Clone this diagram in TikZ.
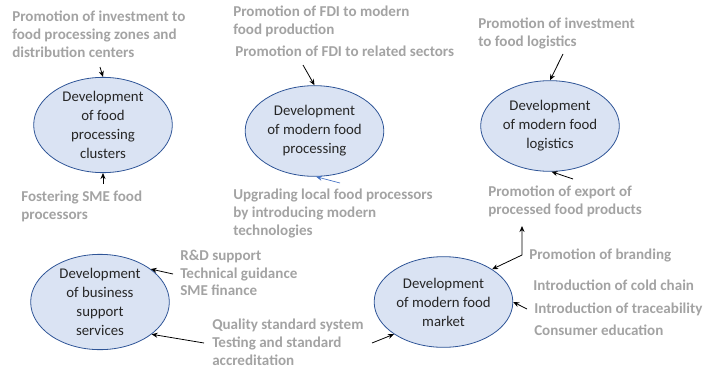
\documentclass[tikz,border=0pt]{standalone}
\usepackage{fontspec}
\setmainfont{Carlito}
\usetikzlibrary{shapes.geometric,arrows.meta}
\definecolor{lblue}{HTML}{DAE3F3}
\definecolor{dblue}{HTML}{2F5597}
\definecolor{mblue}{HTML}{4472C4}
\definecolor{gtext}{HTML}{A3A3A3}
\definecolor{itext}{HTML}{262626}
\tikzset{
  goal/.style={ellipse, draw=dblue, fill=lblue, line width=0.6pt,
    minimum width=104pt, minimum height=68pt, inner sep=0pt,
    align=center, text=itext, font=\fontsize{11.1}{14.25}\selectfont},
  lab/.style={anchor=north west, inner sep=0pt, align=left, text=gtext,
    font=\fontsize{11.3}{13.2}\selectfont\bfseries},
  arr/.style={-{Stealth[length=4.5pt,width=3.8pt]}, line width=0.6pt, draw=black},
}
\begin{document}
\begin{tikzpicture}[x=0.75pt,y=-0.75pt]
\useasboundingbox (0,0) rectangle (706,371);
% goals
\node[goal] (e1) at (103,125) {Development\\of food\\processing\\clusters};
\node[goal] (e2) at (314.5,131) {Development\\of modern food\\processing};
\node[goal] (e3) at (550,126) {Development\\of modern food\\logistics};
\node[goal] (e4) at (100,302) {Development\\of business\\support\\services};
\node[goal] (e5) at (443.5,302) {Development\\of modern food\\market};
% labels
\node[lab] (t1) at (12,11) {Promotion of investment to\\food processing zones and\\distribution centers};
\node[lab] (t2) at (233,6) {Promotion of FDI to modern\\food production};
\node[lab] (t3) at (235,46) {Promotion of FDI to related sectors};
\node[lab] (t4) at (233,189) {Upgrading local food processors\\by introducing modern\\technologies};
\node[lab] (t5) at (478,18) {Promotion of investment\\to food logistics};
\node[lab] (t6) at (488,186) {Promotion of export of\\processed food products};
\node[lab] (t7) at (180,250) {R\&D support\\Technical guidance\\SME finance};
\node[lab] (t8) at (212,319) {Quality standard system\\Testing and standard\\accreditation};
\node[lab] (t9) at (529,249) {Promotion of branding};
\node[lab] (t10) at (533,280) {Introduction of cold chain};
\node[lab] (t11) at (534,303) {Introduction of traceability};
\node[lab] (t12) at (534,325) {Consumer education};
\node[lab] (t13) at (21,191) {Fostering SME food\\processors};
% connector ends
\coordinate (s1) at (100,67);
\coordinate (s2) at (103,184);
\coordinate (s3) at (303,65);
\coordinate (s4) at (340,183);
\coordinate (s5) at (563,54);
\coordinate (s6) at (573,179);
\coordinate (c7) at (522,255);
\coordinate (s7) at (522,226);
\coordinate (s8) at (527,309);
\coordinate (s9) at (372,343);
\coordinate (s10) at (173,274);
\coordinate (s11) at (204,343);
% connectors
\draw[arr] (s1) -- (e1.north);
\draw[arr] (s2) -- (e1.south);
\draw[arr] (s3) -- (e2.north);
\draw[arr, draw=mblue, line width=0.5pt] (s4) -- (e2.272);
\draw[arr] (s5) -- (e3.north);
\draw[arr] (s6) -- (e3.272);
\draw[arr, {Stealth[length=4.5pt,width=3.8pt]}-{Stealth[length=4.5pt,width=3.8pt]}] (e5.34) -- (c7) -- (s7);
\draw[arr] (s8) -- (e5.east);
\draw[arr] (s9) -- (e5.213);
\draw[arr] (s10) -- (e4.33);
\draw[arr] (s11) -- (e4.-32);
\end{tikzpicture}
\end{document}
